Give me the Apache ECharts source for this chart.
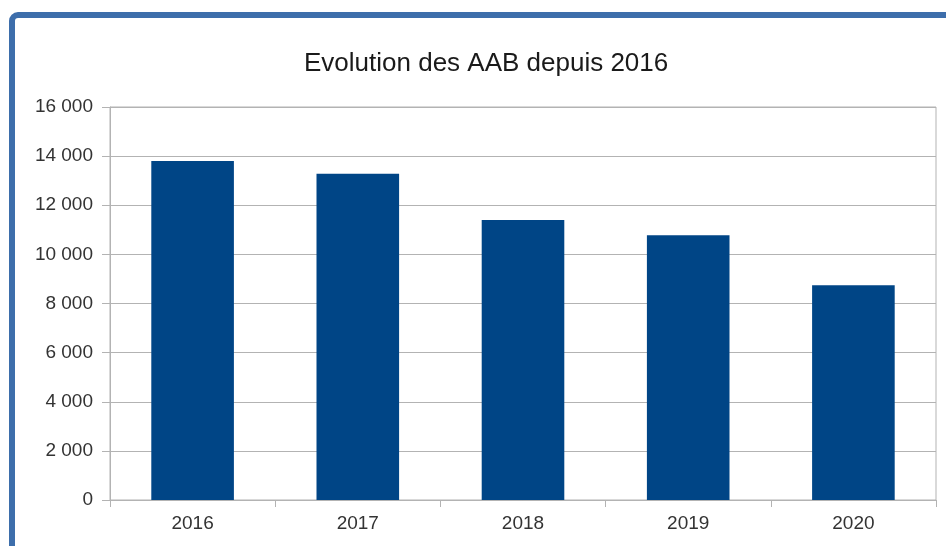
<!DOCTYPE html>
<html><head><meta charset="utf-8">
<script src="https://cdn.jsdelivr.net/npm/echarts@6/dist/echarts.min.js"></script>
<style>html,body{margin:0;padding:0;background:#fff}#c{width:946px;height:546px}</style>
</head><body><div id="c"></div>
<script>
const categories = ['2016', '2017', '2018', '2019', '2020'];
const values = [13800, 13280, 11400, 10780, 8740];
const titleText = 'Evolution des AAB depuis 2016';

const chart = echarts.init(document.getElementById('c'), null, {renderer: 'canvas'});
const fmt = v => String(v).replace(/\B(?=(\d{3})+(?!\d))/g, ' ');
chart.setOption({
  animation: false,
  backgroundColor: '#ffffff',
  graphic: [{
    type: 'rect', shape: {x: 12, y: 15, width: 960, height: 560, r: 6},
    style: {fill: 'none', stroke: '#3d6eab', lineWidth: 6}, z: 100
  }],
  title: {
    text: titleText, left: 299, top: 46,
    textStyle: {fontFamily: 'Liberation Sans', fontSize: 26, fontWeight: 'normal', color: '#1a1a1a'}
  },
  grid: {left: 110, right: 10, top: 107, bottom: 46, show: true, borderColor: '#b3b3b3', borderWidth: 1},
  xAxis: {
    type: 'category', data: categories,
    axisLine: {lineStyle: {color: '#b3b3b3'}},
    axisTick: {show: true, alignWithLabel: false, length: 7, lineStyle: {color: '#b3b3b3'}},
    axisLabel: {fontFamily: 'Liberation Sans', fontSize: 19, color: '#333', margin: 14}
  },
  yAxis: {
    type: 'value', min: 0, max: 16000, interval: 2000,
    axisLine: {show: true, lineStyle: {color: '#b3b3b3'}},
    axisTick: {show: true, length: 8, lineStyle: {color: '#b3b3b3'}},
    splitLine: {lineStyle: {color: '#b3b3b3'}},
    axisLabel: {fontFamily: 'Liberation Sans', fontSize: 19, color: '#333', margin: 17, formatter: fmt}
  },
  series: [{
    type: 'bar', data: values, barWidth: '50%',
    itemStyle: {color: '#004586'}
  }]
});
</script></body></html>
